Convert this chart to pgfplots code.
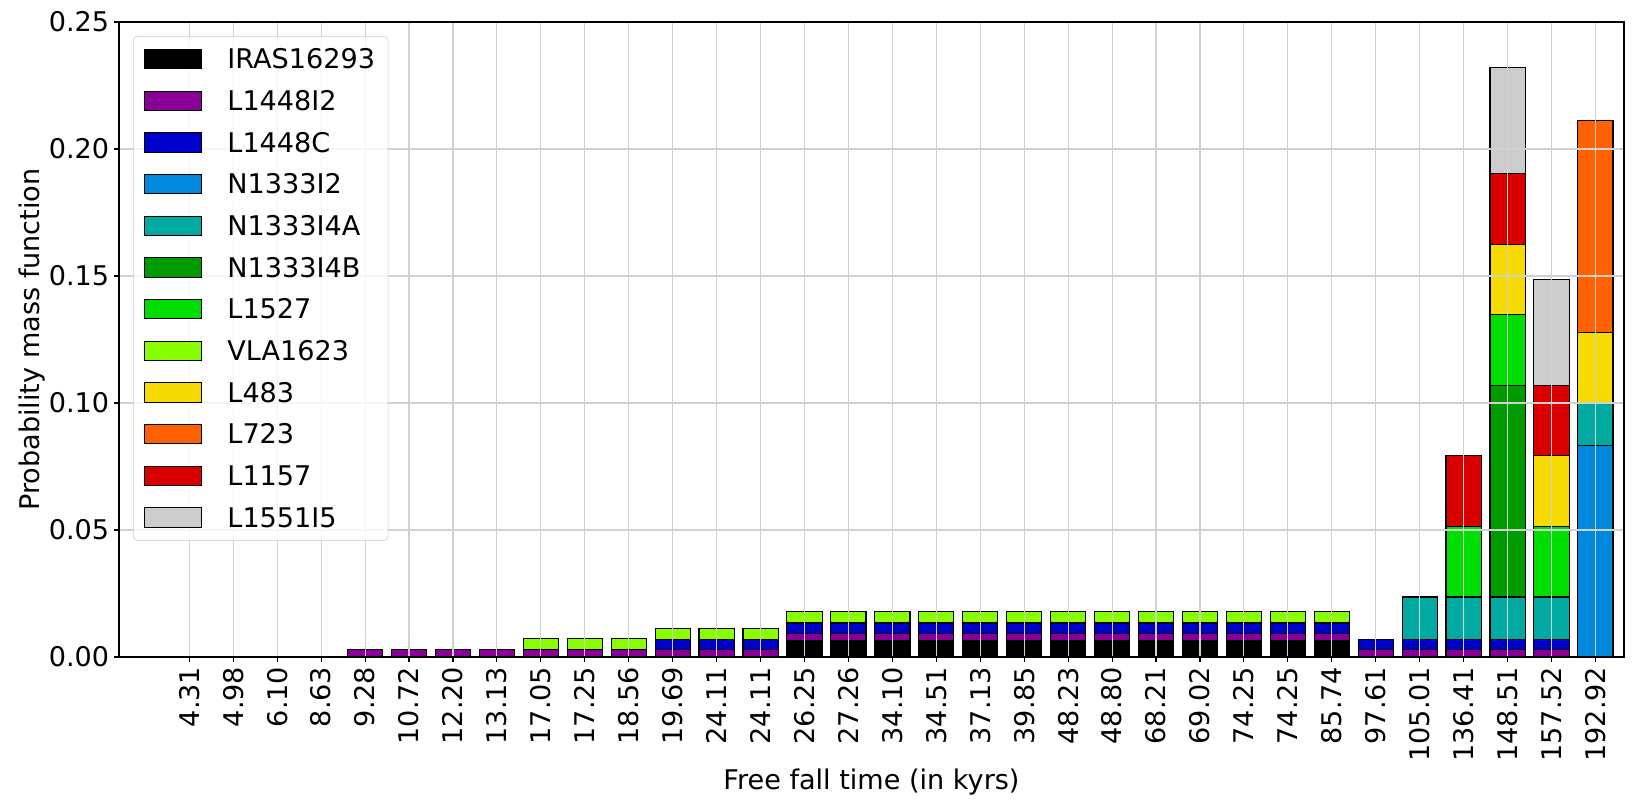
\documentclass[border=0pt]{standalone}
\usepackage{pgfplots}
\pgfplotsset{compat=1.18}
\usepackage{pgfplotstable}
\usepackage{fontspec}
\setmainfont{DejaVu Sans}

\definecolor{cIRAS}{HTML}{000000}
\definecolor{cLaI}{HTML}{880096}
\definecolor{cLaC}{HTML}{0000CC}
\definecolor{cNtwo}{HTML}{0088DD}
\definecolor{cNA}{HTML}{00AAA0}
\definecolor{cNB}{HTML}{009B00}
\definecolor{cLft}{HTML}{00DD00}
\definecolor{cVLA}{HTML}{88FF00}
\definecolor{cLfe}{HTML}{F7DB00}
\definecolor{cLsev}{HTML}{FF6000}
\definecolor{cLoo}{HTML}{DB0000}
\definecolor{cLff}{HTML}{CCCCCC}

% PMF per source, one row per free fall time bin
\pgfplotstableread{
x  iras    lai     lac     ntwo    na      nb      lft     vla     lfe     lsev    loo     lff
0  0       0       0       0       0       0       0       0       0       0       0       0
1  0       0       0       0       0       0       0       0       0       0       0       0
2  0       0       0       0       0       0       0       0       0       0       0       0
3  0       0       0       0       0       0       0       0       0       0       0       0
4  0       0.00298 0       0       0       0       0       0       0       0       0       0
5  0       0.00298 0       0       0       0       0       0       0       0       0       0
6  0       0.00298 0       0       0       0       0       0       0       0       0       0
7  0       0.00298 0       0       0       0       0       0       0       0       0       0
8  0       0.00298 0       0       0       0       0       0.00439 0       0       0       0
9  0       0.00298 0       0       0       0       0       0.00439 0       0       0       0
10 0       0.00298 0       0       0       0       0       0.00439 0       0       0       0
11 0       0.00298 0.00397 0       0       0       0       0.00439 0       0       0       0
12 0       0.00298 0.00397 0       0       0       0       0.00439 0       0       0       0
13 0       0.00298 0.00397 0       0       0       0       0.00439 0       0       0       0
14 0.00641 0.00298 0.00397 0       0       0       0       0.00439 0       0       0       0
15 0.00641 0.00298 0.00397 0       0       0       0       0.00439 0       0       0       0
16 0.00641 0.00298 0.00397 0       0       0       0       0.00439 0       0       0       0
17 0.00641 0.00298 0.00397 0       0       0       0       0.00439 0       0       0       0
18 0.00641 0.00298 0.00397 0       0       0       0       0.00439 0       0       0       0
19 0.00641 0.00298 0.00397 0       0       0       0       0.00439 0       0       0       0
20 0.00641 0.00298 0.00397 0       0       0       0       0.00439 0       0       0       0
21 0.00641 0.00298 0.00397 0       0       0       0       0.00439 0       0       0       0
22 0.00641 0.00298 0.00397 0       0       0       0       0.00439 0       0       0       0
23 0.00641 0.00298 0.00397 0       0       0       0       0.00439 0       0       0       0
24 0.00641 0.00298 0.00397 0       0       0       0       0.00439 0       0       0       0
25 0.00641 0.00298 0.00397 0       0       0       0       0.00439 0       0       0       0
26 0.00641 0.00298 0.00397 0       0       0       0       0.00439 0       0       0       0
27 0       0.00298 0.00397 0       0       0       0       0       0       0       0       0
28 0       0.00298 0.00397 0       0.01667 0       0       0       0       0       0       0
29 0       0.00298 0.00397 0       0.01667 0       0.02778 0       0       0       0.02778 0
30 0       0.00298 0.00397 0       0.01667 0.08333 0.02778 0       0.02778 0       0.02778 0.04167
31 0       0.00298 0.00397 0       0.01667 0       0.02778 0       0.02778 0       0.02778 0.04167
32 0       0       0       0.08333 0.01667 0       0       0       0.02778 0.08333 0       0
}\pmf

\begin{document}
\begin{tikzpicture}
\begin{axis}[
    scale only axis,
    width=1083.6pt, height=457.2pt,
    ybar stacked, bar width=0.8,
    xmin=-1.6, xmax=32.65, ymin=0, ymax=0.25,
    font=\fontsize{19.5}{23.4}\selectfont,
    xtick={0,...,32},
    xticklabels={4.31,4.98,6.10,8.63,9.28,10.72,12.20,13.13,17.05,17.25,18.56,19.69,24.11,24.11,26.25,27.26,34.10,34.51,37.13,39.85,48.23,48.80,68.21,69.02,74.25,74.25,85.74,97.61,105.01,136.41,148.51,157.52,192.92},
    xticklabel style={rotate=90, anchor=east},
    ytick={0,0.05,0.10,0.15,0.20,0.25},
    scaled y ticks=false,
    /pgf/number format/assume math mode=true,
    yticklabel style={/pgf/number format/fixed, /pgf/number format/fixed zerofill, /pgf/number format/precision=2},
    tick align=outside, xtick pos=bottom, ytick pos=left,
    major tick length=3.6pt,
    tick style={black, line width=0.8pt},
    axis line style={line width=0.8pt},
    grid=major, grid style={black!18, line width=0.8pt},
    axis on top,
    xlabel={Free fall time (in kyrs)},
    ylabel={Probability mass function},
    xlabel style={at={(axis description cs:0.5,-0.197)}, anchor=center},
    ylabel style={at={(axis description cs:-0.0575,0.5)}, anchor=center},
    every axis plot/.append style={draw=black, line width=0.8pt},
    legend image code/.code={\draw[#1, sharp corners, fill opacity=1, draw opacity=1] (0pt,-7pt) rectangle (41pt,7pt);},
    legend cell align=left,
    legend style={at={(0.0093,0.978)}, anchor=north west,
        draw=black!20, fill=white, fill opacity=0.8, text opacity=1,
        rounded corners=3pt, inner xsep=8pt, inner ysep=8pt,
        row sep=13pt, column sep=16.5pt,
        nodes={inner sep=1.5pt, text height=14pt, text depth=0pt}},
]
\addplot[fill=cIRAS] table[x=x, y=iras] {\pmf};
\addplot[fill=cLaI] table[x=x, y=lai] {\pmf};
\addplot[fill=cLaC] table[x=x, y=lac] {\pmf};
\addplot[fill=cNtwo] table[x=x, y=ntwo] {\pmf};
\addplot[fill=cNA] table[x=x, y=na] {\pmf};
\addplot[fill=cNB] table[x=x, y=nb] {\pmf};
\addplot[fill=cLft] table[x=x, y=lft] {\pmf};
\addplot[fill=cVLA] table[x=x, y=vla] {\pmf};
\addplot[fill=cLfe] table[x=x, y=lfe] {\pmf};
\addplot[fill=cLsev] table[x=x, y=lsev] {\pmf};
\addplot[fill=cLoo] table[x=x, y=loo] {\pmf};
\addplot[fill=cLff] table[x=x, y=lff] {\pmf};
\legend{IRAS16293, L1448I2, L1448C, N1333I2, N1333I4A, N1333I4B, L1527, VLA1623, L483, L723, L1157, L1551I5}
\coordinate (sw) at (rel axis cs:0,0);
\coordinate (ne) at (rel axis cs:1,1);
\end{axis}
\pgfresetboundingbox
\path ([shift={(-85.68pt,-105.84pt)}]sw) rectangle ([shift={(7.92pt,15.84pt)}]ne);
\end{tikzpicture}
\end{document}
